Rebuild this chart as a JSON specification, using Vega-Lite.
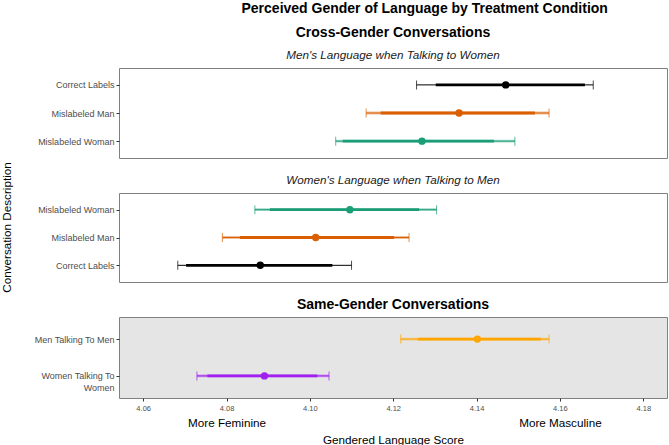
{
  "$schema": "https://vega.github.io/schema/vega-lite/v6.json",
  "padding": {"left": 0, "top": 1, "right": 2, "bottom": 0},
  "background": "white",
  "title": {"text": "Perceived Gender of Language by Treatment Condition", "anchor": "start", "frame": "bounds", "dx": 241, "fontSize": 14, "fontWeight": "bold", "offset": 10},
  "datasets": {
    "rows": [
      {"panel": "mw", "condition": "Correct Labels", "score": 4.1470, "lo95": 4.1256, "hi95": 4.1680, "lo_in": 4.1302, "hi_in": 4.1660},
      {"panel": "mw", "condition": "Mislabeled Man", "score": 4.1358, "lo95": 4.1135, "hi95": 4.1574, "lo_in": 4.1170, "hi_in": 4.1540},
      {"panel": "mw", "condition": "Mislabeled Woman", "score": 4.1269, "lo95": 4.1062, "hi95": 4.1492, "lo_in": 4.1079, "hi_in": 4.1442},
      {"panel": "wm", "condition": "Mislabeled Woman", "score": 4.1096, "lo95": 4.0868, "hi95": 4.1304, "lo_in": 4.0904, "hi_in": 4.1262},
      {"panel": "wm", "condition": "Mislabeled Man", "score": 4.1014, "lo95": 4.0790, "hi95": 4.1238, "lo_in": 4.0832, "hi_in": 4.1202},
      {"panel": "wm", "condition": "Correct Labels", "score": 4.0881, "lo95": 4.0683, "hi95": 4.1100, "lo_in": 4.0703, "hi_in": 4.1054},
      {"panel": "same", "condition": "Men Talking To Men", "score": 4.1402, "lo95": 4.1218, "hi95": 4.1574, "lo_in": 4.1259, "hi_in": 4.1554},
      {"panel": "same", "condition": "Women Talking To Women", "score": 4.0891, "lo95": 4.0729, "hi95": 4.1046, "lo_in": 4.0754, "hi_in": 4.1018}
    ]
  },
  "data": {"name": "rows"},
  "spacing": 35,
  "bounds": "flush",
  "vconcat": [
    {
      "width": 548, "height": 90,
      "title": {"text": "Cross-Gender Conversations", "subtitle": "Men's Language when Talking to Women", "fontSize": 14, "fontWeight": "bold", "subtitleFontSize": 11.7, "subtitleFontStyle": "italic", "subtitleColor": "#1A1A1A", "subtitlePadding": 10, "offset": 6, "anchor": "middle"},
      "transform": [{"filter": "datum.panel == 'mw'"}],
      "encoding": {
        "y": {"field": "condition", "type": "nominal", "sort": ["Correct Labels", "Mislabeled Man", "Mislabeled Woman"], "scale": {"type": "point", "padding": 0.6}, "axis": {"title": "Conversation Description", "titleX": -107, "titleY": 159}},
        "color": {"field": "condition", "type": "nominal", "scale": {"domain": ["Correct Labels", "Mislabeled Man", "Mislabeled Woman", "Men Talking To Men", "Women Talking To Women"], "range": ["#000000", "#D95F02", "#1B9E77", "#FFA500", "#A020F0"]}, "legend": null}
      },
      "layer": [
        {"transform": [{"filter": "datum.condition != 'Correct Labels'"}], "mark": {"type": "rule", "strokeWidth": 2.8, "opacity": 0.4}, "encoding": {"x": {"field": "lo95", "type": "quantitative", "scale": {"domain": [4.0542, 4.1857], "nice": false, "zero": false}, "axis": null}, "x2": {"field": "hi95"}}},
        {"mark": {"type": "errorbar", "thickness": 1, "ticks": {"size": 9}}, "encoding": {"x": {"field": "lo95", "type": "quantitative", "scale": {"domain": [4.0542, 4.1857], "nice": false, "zero": false}, "axis": null}, "x2": {"field": "hi95"}}},
        {"mark": {"type": "rule", "strokeWidth": 2.8}, "encoding": {"x": {"field": "lo_in", "type": "quantitative", "scale": {"domain": [4.0542, 4.1857], "nice": false, "zero": false}, "axis": null}, "x2": {"field": "hi_in"}}},
        {"mark": {"type": "point", "filled": true, "size": 55, "opacity": 1}, "encoding": {"x": {"field": "score", "type": "quantitative", "scale": {"domain": [4.0542, 4.1857], "nice": false, "zero": false}, "axis": null}}}
      ]
    },
    {
      "width": 548, "height": 89,
      "title": {"text": "Women's Language when Talking to Men", "fontSize": 11.7, "fontWeight": "normal", "fontStyle": "italic", "color": "#1A1A1A", "offset": 6, "anchor": "middle"},
      "transform": [{"filter": "datum.panel == 'wm'"}],
      "encoding": {
        "y": {"field": "condition", "type": "nominal", "sort": ["Mislabeled Woman", "Mislabeled Man", "Correct Labels"], "scale": {"type": "point", "padding": 0.6}, "axis": {"title": null}},
        "color": {"field": "condition", "type": "nominal", "scale": {"domain": ["Correct Labels", "Mislabeled Man", "Mislabeled Woman", "Men Talking To Men", "Women Talking To Women"], "range": ["#000000", "#D95F02", "#1B9E77", "#FFA500", "#A020F0"]}, "legend": null}
      },
      "layer": [
        {"transform": [{"filter": "datum.condition != 'Correct Labels'"}], "mark": {"type": "rule", "strokeWidth": 2.8, "opacity": 0.4}, "encoding": {"x": {"field": "lo95", "type": "quantitative", "scale": {"domain": [4.0542, 4.1857], "nice": false, "zero": false}, "axis": null}, "x2": {"field": "hi95"}}},
        {"mark": {"type": "errorbar", "thickness": 1, "ticks": {"size": 9}}, "encoding": {"x": {"field": "lo95", "type": "quantitative", "scale": {"domain": [4.0542, 4.1857], "nice": false, "zero": false}, "axis": null}, "x2": {"field": "hi95"}}},
        {"mark": {"type": "rule", "strokeWidth": 2.8}, "encoding": {"x": {"field": "lo_in", "type": "quantitative", "scale": {"domain": [4.0542, 4.1857], "nice": false, "zero": false}, "axis": null}, "x2": {"field": "hi_in"}}},
        {"mark": {"type": "point", "filled": true, "size": 55, "opacity": 1}, "encoding": {"x": {"field": "score", "type": "quantitative", "scale": {"domain": [4.0542, 4.1857], "nice": false, "zero": false}, "axis": null}}}
      ]
    },
    {
      "width": 548, "height": 81,
      "view": {"fill": "#E5E5E5", "stroke": "#808080"},
      "title": {"text": "Same-Gender Conversations", "fontSize": 14, "fontWeight": "bold", "offset": 5, "anchor": "middle"},
      "transform": [{"filter": "datum.panel == 'same'"}],
      "encoding": {
        "y": {"field": "condition", "type": "nominal", "sort": ["Men Talking To Men", "Women Talking To Women"], "scale": {"type": "point", "padding": 0.6}, "axis": {"title": null, "labelExpr": "datum.value == 'Women Talking To Women' ? ['Women Talking To', 'Women'] : datum.value", "labelLineHeight": 12}},
        "color": {"field": "condition", "type": "nominal", "scale": {"domain": ["Correct Labels", "Mislabeled Man", "Mislabeled Woman", "Men Talking To Men", "Women Talking To Women"], "range": ["#000000", "#D95F02", "#1B9E77", "#FFA500", "#A020F0"]}, "legend": null}
      },
      "layer": [
        {"transform": [{"filter": "datum.condition != 'Correct Labels'"}], "mark": {"type": "rule", "strokeWidth": 2.8, "opacity": 0.4}, "encoding": {"x": {"field": "lo95", "type": "quantitative", "scale": {"domain": [4.0542, 4.1857], "nice": false, "zero": false}, "axis": null}, "x2": {"field": "hi95"}}},
        {"mark": {"type": "errorbar", "thickness": 1, "ticks": {"size": 9}}, "encoding": {"x": {"field": "lo95", "type": "quantitative", "scale": {"domain": [4.0542, 4.1857], "nice": false, "zero": false}, "axis": null}, "x2": {"field": "hi95"}}},
        {"mark": {"type": "rule", "strokeWidth": 2.8}, "encoding": {"x": {"field": "lo_in", "type": "quantitative", "scale": {"domain": [4.0542, 4.1857], "nice": false, "zero": false}, "axis": {"orient": "bottom", "values": [4.06, 4.08, 4.1, 4.12, 4.14, 4.16, 4.18], "format": ".2f", "labelFontSize": 7.5, "labelColor": "#4D4D4D", "tickSize": 3, "labelPadding": 3, "title": null}}, "x2": {"field": "hi_in"}}},
        {"mark": {"type": "point", "filled": true, "size": 55, "opacity": 1}, "encoding": {"x": {"field": "score", "type": "quantitative", "scale": {"domain": [4.0542, 4.1857], "nice": false, "zero": false}, "axis": {"orient": "bottom", "values": [4.08, 4.16], "labelExpr": "datum.value < 4.12 ? 'More Feminine' : 'More Masculine'", "ticks": false, "domain": false, "labelFontSize": 11.7, "labelColor": "#000000", "offset": 18, "labelPadding": 1, "title": "Gendered Language Score", "titleFontSize": 11.7, "titlePadding": 6}}}}
      ],
      "resolve": {"axis": {"x": "independent"}}
    }
  ],
  "config": {
    "font": "Liberation Sans",
    "view": {"stroke": "#808080", "strokeWidth": 1},
    "axis": {"domain": false, "grid": false, "tickColor": "#333333", "tickSize": 3, "labelColor": "#4D4D4D", "labelFont": "Liberation Sans", "titleFont": "Liberation Sans", "titleFontWeight": "normal", "titleColor": "#000000", "titleFontSize": 11.7},
    "axisY": {"labelFontSize": 9, "labelPadding": 2},
    "title": {"font": "Liberation Sans", "subtitleFont": "Liberation Sans", "color": "#000000"}
  }
}
